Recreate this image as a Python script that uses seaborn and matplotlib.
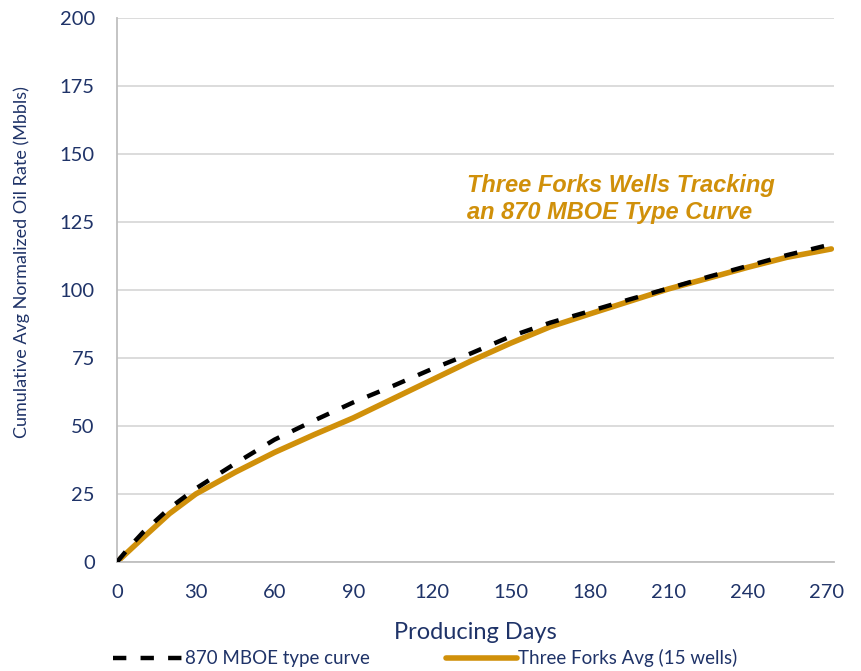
import numpy as np
import pandas as pd
import matplotlib
matplotlib.use("Agg")
import matplotlib.pyplot as plt
import seaborn as sns

# dias de produção e curvas acumuladas (Mbbls)
dias = [0, 5, 10, 20, 30, 45, 60, 75, 90, 105, 120, 135, 150, 165, 180, 195, 210, 225, 240, 255, 272]
curva_tipo = [0, 5.8, 11, 19.8, 27, 36.2, 45, 52, 58.7, 64.7, 71, 76.8, 83, 88, 92.2, 96.5, 100.6, 104.8, 108.8, 112.8, 116.8]
media_tf = [0, 4.5, 9, 17.8, 25, 33, 40.3, 46.8, 53, 60, 67, 74, 80.5, 86.5, 91.2, 95.8, 100.4, 104.3, 108.3, 112, 115.1]

nome_tipo = "870 MBOE type curve"
nome_tf = "Three Forks Avg (15 wells)"
ticks_x = list(range(0, 271, 30))
ticks_y = list(range(0, 201, 25))

AZUL = "#1F3368"
OURO = "#D0900A"

sns.set_theme(style="white")
plt.rcParams['font.family'] = ['Lato', 'DejaVu Sans']

fig = plt.figure(figsize=(8.62, 6.71), dpi=100)
ax = fig.add_axes([0.1357, 0.1624, 0.8318, 0.8108])

sns.lineplot(x=dias, y=media_tf, ax=ax, color=OURO, lw=4, label=nome_tf, zorder=2)
sns.lineplot(x=dias, y=curva_tipo, ax=ax, color="black", lw=3.2, label=nome_tipo, zorder=3)
ax.lines[-1].set_dashes([3, 3.2])

ax.set_xlim(0, 273)
ax.set_ylim(0, 200)
ax.set_xticks(ticks_x)
ax.set_yticks(ticks_y)
ax.tick_params(axis='both', labelsize=14.5, colors=AZUL, length=0)
ax.tick_params(axis='x', pad=16)
ax.tick_params(axis='y', pad=16)
ax.grid(axis='y', color='#D9D9D9', lw=1.3)
ax.set_axisbelow(True)
for lado in ['top', 'right']:
    ax.spines[lado].set_visible(False)
for lado in ['left', 'bottom']:
    ax.spines[lado].set_color('#BFBFBF')
    ax.spines[lado].set_linewidth(1.3)

ax.set_xlabel("Producing Days", fontsize=17, color=AZUL, labelpad=15)
ax.set_ylabel("Cumulative Avg Normalized Oil Rate (Mbbls)", fontsize=13, color=AZUL)
ax.yaxis.set_label_coords(-0.121, 0.552)

ax.text(0.488, 0.667, "Three Forks Wells Tracking\nan 870 MBOE Type Curve",
        transform=ax.transAxes, fontsize=17, color=OURO, fontweight='bold',
        fontstyle='italic', family=['Liberation Sans', 'DejaVu Sans'],
        va='center', ha='left', linespacing=1.2)

handles, labels = ax.get_legend_handles_labels()
ax.get_legend().remove()
fig.legend(handles[::-1], labels[::-1], loc='center', bbox_to_anchor=(0.493, 0.019),
           ncol=2, frameon=False, fontsize=13.5, labelcolor=AZUL,
           handlelength=3.8, handletextpad=0.05, columnspacing=4.05, borderaxespad=0)

plt.savefig("out.png", dpi=100)
plt.close()
